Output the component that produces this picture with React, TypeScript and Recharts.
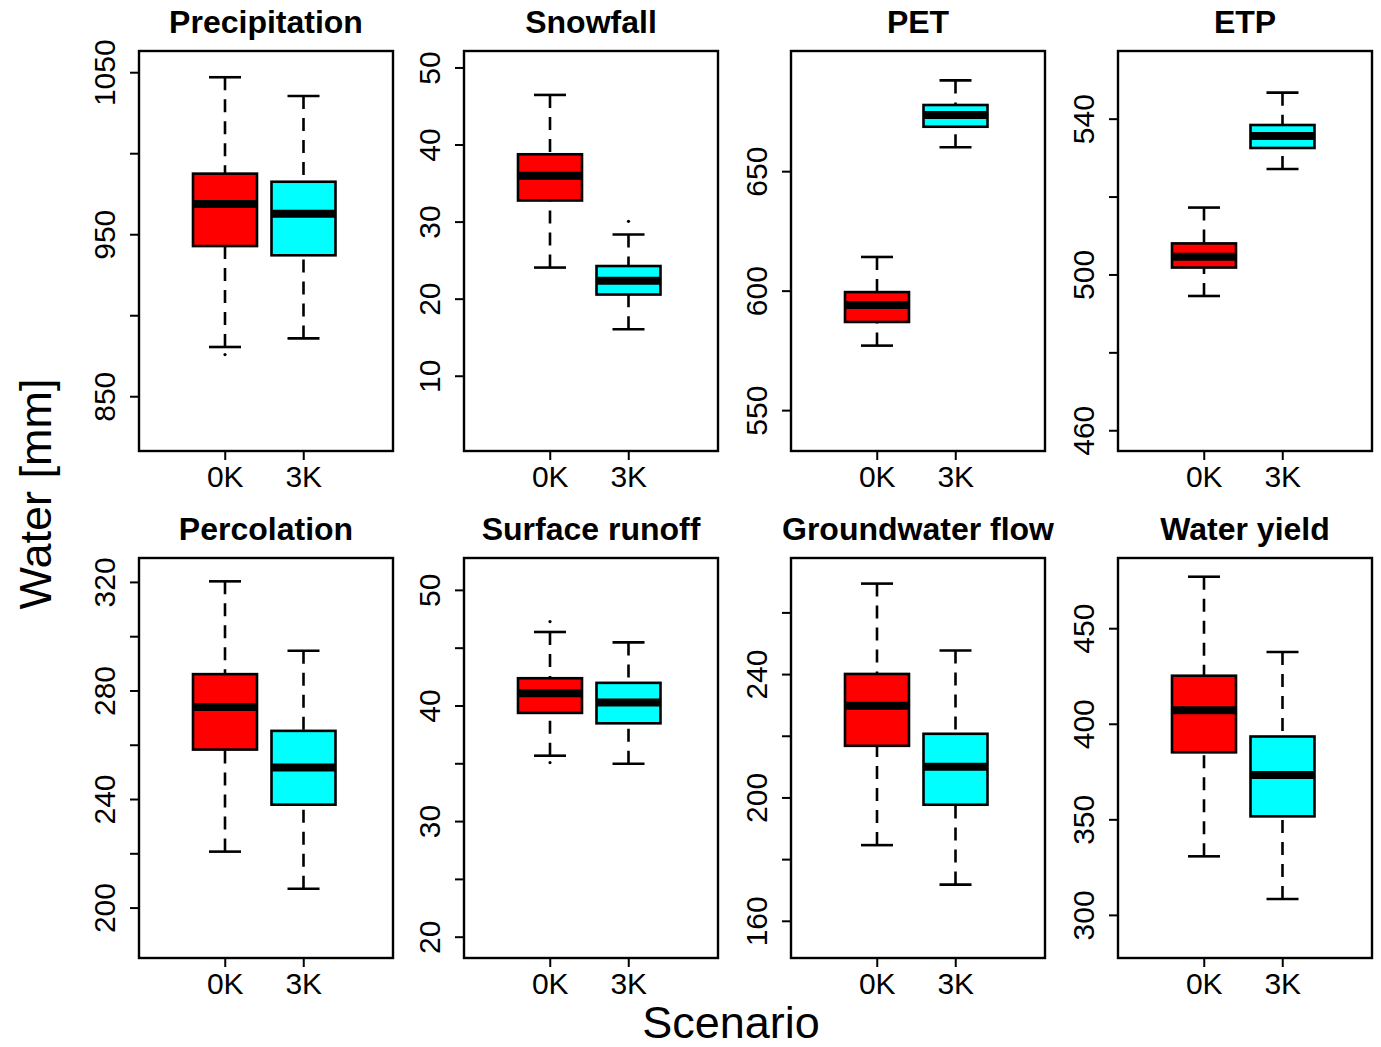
import React from 'react';
import { ComposedChart, Bar, XAxis, YAxis } from 'recharts';

const scenarios = ['0K', '3K'];
const boxColors = ['#FF0000', '#00FFFF'];

const panelTitles = [
  'Precipitation', 'Snowfall', 'PET', 'ETP',
  'Percolation', 'Surface runoff', 'Groundwater flow', 'Water yield',
];

// [lower whisker, Q1, median, Q3, upper whisker] -> [0K, 3K]
const precipitation = [[880.7, 943, 969, 987.7, 1047.2], [886, 937.3, 963, 982.7, 1035.6]];
const snowfall = [[24.1, 32.8, 36.0, 38.8, 46.5], [16.1, 20.6, 22.4, 24.3, 28.4]];
const pet = [[577.2, 587.1, 594.2, 599.6, 614.3], [660.2, 668.8, 673.7, 677.9, 688.2]];
const etp = [[494.6, 501.9, 504.7, 508.1, 517.3], [527.2, 532.6, 535.7, 538.5, 546.8]];
const percolation = [[220.8, 258.4, 274.1, 286.2, 320.4], [207.1, 238.1, 251.8, 265.3, 294.8]];
const surfaceRunoff = [[35.7, 39.4, 41.1, 42.4, 46.4], [35.0, 38.5, 40.3, 42.0, 45.5]];
const groundwaterFlow = [[184.7, 216.9, 229.9, 240.2, 269.5], [171.9, 197.8, 210.1, 220.8, 247.8]];
const waterYield = [[330.9, 385.3, 407.3, 425.4, 477.2], [308.6, 351.8, 373.4, 393.6, 437.8]];

const panelStats = [precipitation, snowfall, pet, etp, percolation, surfaceRunoff, groundwaterFlow, waterYield];

// small outlier points, per panel -> [0K, 3K]
const outliers = [
  [[876], []], [[], [30.1]], [[], []], [[], []],
  [[], []], [[47.3, 35.1], []], [[], []], [[], []],
];

const yDomains = [
  [816.5, 1063.4], [0.3, 52.2], [533.1, 700.5], [454.8, 557.5],
  [181.6, 329.0], [18.2, 52.8], [148.1, 277.8], [277.7, 487],
];
const yTicks = [
  [850, 900, 950, 1000, 1050], [10, 20, 30, 40, 50], [550, 600, 650], [460, 480, 500, 520, 540],
  [200, 220, 240, 260, 280, 300, 320], [20, 25, 30, 35, 40, 45, 50], [160, 180, 200, 220, 240, 260], [300, 350, 400, 450],
];
const yTickLabels = [
  [850, 950, 1050], [10, 20, 30, 40, 50], [550, 600, 650], [460, 500, 540],
  [200, 240, 280, 320], [20, 30, 40, 50], [160, 200, 240], [300, 350, 400, 450],
];

const FONT = '"Liberation Sans", Arial, sans-serif';
const PLOT_W = 254;
const PLOT_H = 400;
const AXIS_W = 70;
const TOP_M = 45;
const RIGHT_M = 6;
const XAXIS_H = 50;
const colLefts = [139, 464, 791, 1118];
const rowTops = [51, 558];

function BoxShape(props: any) {
  const { x, y, width, height, payload } = props;
  const [lo, q1, med, q3, hi] = payload.stats;
  const top = Math.min(y, y + height);
  const bottom = Math.max(y, y + height);
  const toPx = (v: number) => bottom - ((v - lo) / (hi - lo)) * (bottom - top);
  const cx = x + width / 2;
  const capHalf = width / 4;
  return (
    <g>
      <line x1={cx} x2={cx} y1={toPx(hi)} y2={toPx(q3)} stroke="#000" strokeWidth={2.6} strokeDasharray="13 9" />
      <line x1={cx} x2={cx} y1={toPx(lo)} y2={toPx(q1)} stroke="#000" strokeWidth={2.6} strokeDasharray="13 9" />
      <line x1={cx - capHalf} x2={cx + capHalf} y1={toPx(hi)} y2={toPx(hi)} stroke="#000" strokeWidth={2.6} />
      <line x1={cx - capHalf} x2={cx + capHalf} y1={toPx(lo)} y2={toPx(lo)} stroke="#000" strokeWidth={2.6} />
      <rect x={x} y={toPx(q3)} width={width} height={toPx(q1) - toPx(q3)} fill={payload.fill} stroke="#000" strokeWidth={2.6} />
      <line x1={x} x2={x + width} y1={toPx(med)} y2={toPx(med)} stroke="#000" strokeWidth={8} />
      {payload.outliers.map((o: number, k: number) => (
        <circle key={k} cx={cx} cy={toPx(o)} r={1.6} fill="#000" />
      ))}
    </g>
  );
}

function YTick(props: any) {
  const { x, y, payload, labels } = props;
  if (!labels.includes(payload.value)) return <g />;
  const tx = x - 15;
  return (
    <text x={tx} y={y} transform={`rotate(-90, ${tx}, ${y})`} textAnchor="middle"
      fontFamily={FONT} fontSize={30} fill="#000">
      {payload.value}
    </text>
  );
}

function XTick(props: any) {
  const { x, y, payload } = props;
  return (
    <text x={x} y={y + 27} textAnchor="middle" fontFamily={FONT} fontSize={30} fill="#000">
      {payload.value}
    </text>
  );
}

function Panel({ index }: { index: number }) {
  const stats = panelStats[index];
  const data = scenarios.map((s, i) => ({
    scenario: s,
    range: [stats[i][0], stats[i][4]],
    stats: stats[i],
    fill: boxColors[i],
    outliers: outliers[index][i],
  }));
  const col = index % 4;
  const row = Math.floor(index / 4);
  return (
    <div style={{ position: 'absolute', left: colLefts[col] - AXIS_W, top: rowTops[row] - TOP_M }}>
      <ComposedChart
        width={AXIS_W + PLOT_W + RIGHT_M}
        height={TOP_M + PLOT_H + XAXIS_H}
        data={data}
        margin={{ top: TOP_M, right: RIGHT_M, bottom: 0, left: 0 }}
      >
        <XAxis
          dataKey="scenario"
          height={XAXIS_H}
          padding={{ left: 47, right: 50 }}
          axisLine={false}
          tickSize={9}
          tickMargin={0}
          tickLine={{ stroke: '#000', strokeWidth: 2 }}
          tick={<XTick />}
          interval={0}
        />
        <YAxis
          type="number"
          width={AXIS_W}
          domain={yDomains[index]}
          ticks={yTicks[index]}
          allowDataOverflow
          axisLine={false}
          tickSize={9}
          tickMargin={0}
          tickLine={{ stroke: '#000', strokeWidth: 2 }}
          tick={<YTick labels={yTickLabels[index]} />}
          interval={0}
        />
        <Bar dataKey="range" barSize={64} shape={<BoxShape />} isAnimationActive={false} />
      </ComposedChart>
    </div>
  );
}

export default function App() {
  return (
    <div style={{ position: 'absolute', left: 0, top: 0, width: 1381, height: 1047, background: '#fff', overflow: 'hidden' }}>
      {panelTitles.map((_, i) => (
        <Panel key={i} index={i} />
      ))}
      <svg width={1381} height={1047} style={{ position: 'absolute', left: 0, top: 0, pointerEvents: 'none' }}>
        {panelTitles.map((t, i) => {
          const left = colLefts[i % 4];
          const top = rowTops[Math.floor(i / 4)];
          return (
            <g key={t}>
              <rect x={left} y={top} width={PLOT_W} height={PLOT_H} fill="none" stroke="#000" strokeWidth={2.4} />
              <text x={left + PLOT_W / 2} y={top - 18} textAnchor="middle" fontFamily={FONT}
                fontWeight="bold" fontSize={32} fill="#000">{t}</text>
            </g>
          );
        })}
        <text x={51} y={494} transform="rotate(-90, 51, 494)" textAnchor="middle" fontFamily={FONT}
          fontSize={45} fill="#000">Water [mm]</text>
        <text x={731} y={1038} textAnchor="middle" fontFamily={FONT} fontSize={45} fill="#000">Scenario</text>
      </svg>
    </div>
  );
}
